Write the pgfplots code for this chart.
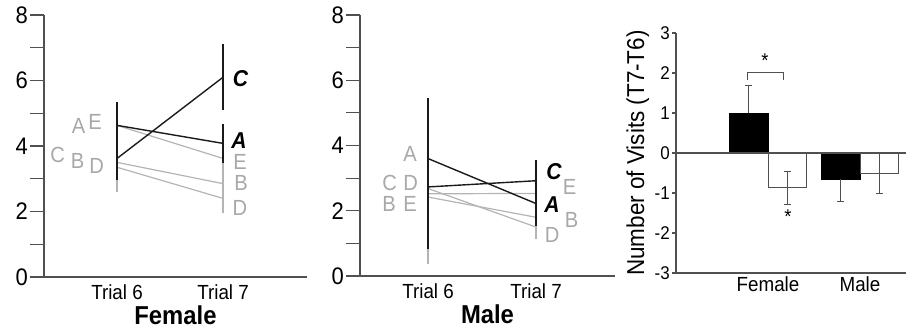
\documentclass[border=0pt]{standalone}
\usepackage{pgfplots}
\pgfplotsset{compat=1.18}
\usepackage{fontspec}
\setmainfont{Liberation Sans}[FakeStretch=0.92]
\definecolor{axgray}{HTML}{505050}
\definecolor{lgray}{HTML}{B4B4B4}
\definecolor{tgray}{HTML}{A8A8A8}
\definecolor{dk}{HTML}{1A1A1A}
\pgfplotsset{
 trialaxis/.style={
   scale only axis, axis lines*=left,
   axis line style={axgray, line width=1.2bp},
   ymin=0, ymax=8, ytick={0,2,4,6,8}, minor ytick={1,3,5,7},
   ytick align=outside, xtick align=inside,
   major tick length=14bp, minor tick length=14bp,
   tick style={axgray, line width=1.2bp},
   xtick={0,1}, xticklabels={Trial 6, Trial 7},
   major x tick style={draw=none},
   yticklabel style={font=\fontsize{24}{26}\selectfont, inner sep=2bp},
   xticklabel style={font=\fontsize{20.5}{22}\selectfont, anchor=base, yshift=-22bp},
   xlabel style={font=\fontsize{26}{28}\selectfont\bfseries, at={(axis description cs:0.5,0)}, anchor=base, yshift=-47bp},
   /pgf/number format/assume math mode=true,
   clip=false,
 },
 gline/.style={lgray, line width=1.2bp, error bars/.cd, y dir=both, y explicit, error mark=none, error bar style={lgray, line width=1.5bp}},
 kline/.style={dk, line width=1.4bp, error bars/.cd, y dir=both, y explicit, error mark=none, error bar style={dk, line width=1.6bp}},
}
\tikzset{
 glabel/.style={font=\fontsize{22}{23}\selectfont, text=tgray, inner sep=0pt},
 blabel/.style={font=\fontsize{23}{24}\selectfont\bfseries\itshape, text=black, inner sep=0pt},
}
\begin{document}
\begin{tikzpicture}
\useasboundingbox (0,0) rectangle (906bp,331bp);
% ---------- Female panel
\begin{axis}[trialaxis, at={(44bp,54bp)}, anchor=south west,
  width=263bp, height=262bp, xmin=-0.689, xmax=1.792, xlabel={Female}]
\addplot[gline] coordinates {(0,4.63) +- (0,0.6) (1,3.62) +- (0,0.5)}; % E
\addplot[gline] coordinates {(0,3.50) +- (0,0.55) (1,2.85) +- (0,0.5)}; % B
\addplot[gline] coordinates {(0,3.35) +- (0,0.75) (1,2.40) +- (0,0.45)}; % D
\addplot[kline] coordinates {(0,4.63) +- (0,0.7) (1,4.08) +- (0,0.6)}; % A
\addplot[kline] coordinates {(0,3.62) +- (0,0.65) (1,6.10) +- (0,1.0)}; % C
\node[glabel] at (axis cs:-0.363,4.60) {A};
\node[glabel] at (axis cs:-0.208,4.74) {E};
\node[glabel] at (axis cs:-0.561,3.73) {C};
\node[glabel] at (axis cs:-0.373,3.55) {B};
\node[glabel] at (axis cs:-0.193,3.40) {D};
\node[blabel] at (axis cs:1.165,6.05) {C};
\node[blabel] at (axis cs:1.15,4.15) {A};
\node[glabel] at (axis cs:1.16,3.50) {E};
\node[glabel] at (axis cs:1.17,2.87) {B};
\node[glabel] at (axis cs:1.16,2.11) {D};
\end{axis}
% ---------- Male panel
\begin{axis}[trialaxis, at={(360bp,55bp)}, anchor=south west,
  width=255bp, height=261bp, xmin=-0.63, xmax=1.731, xlabel={Male}]
\addplot[gline] coordinates {(0,2.52) +- (0,1.5) (1,2.53) +- (0,0.7)}; % E
\addplot[gline] coordinates {(0,2.42) +- (0,1.5) (1,1.80) +- (0,0.5)}; % B
\addplot[gline] coordinates {(0,2.68) +- (0,2.3) (1,1.50) +- (0,0.38)}; % D
\addplot[kline] coordinates {(0,3.60) +- (0,1.85) (1,2.22) +- (0,0.68)}; % A
\addplot[kline] coordinates {(0,2.73) +- (0,1.9) (1,2.92) +- (0,0.63)}; % C
\node[glabel] at (axis cs:-0.167,3.75) {A};
\node[glabel] at (axis cs:-0.356,2.86) {C};
\node[glabel] at (axis cs:-0.162,2.86) {D};
\node[glabel] at (axis cs:-0.360,2.21) {B};
\node[glabel] at (axis cs:-0.167,2.21) {E};
\node[blabel] at (axis cs:1.167,3.20) {C};
\node[glabel] at (axis cs:1.31,2.73) {E};
\node[blabel] at (axis cs:1.148,2.18) {A};
\node[glabel] at (axis cs:1.33,1.72) {B};
\node[glabel] at (axis cs:1.15,1.26) {D};
\end{axis}
% ---------- Difference panel
\begin{axis}[scale only axis, at={(676bp,58bp)}, anchor=south west,
  width=230bp, height=240bp, xmin=0, xmax=2.5, ymin=-3, ymax=3,
  axis lines*=left, axis line style={axgray, line width=1.2bp},
  ytick={-3,-2,-1,0,1,2,3}, ytick align=outside, xtick align=inside,
  major tick length=4bp,
  tick style={axgray, line width=1.2bp},
  xtick={1,2}, xticklabels={Female, Male}, major x tick style={draw=none},
  yticklabel style={font=\fontsize{18.5}{20}\selectfont, inner sep=2bp},
  xticklabel style={font=\fontsize{20.5}{22}\selectfont, anchor=base, yshift=-19bp},
  ylabel={Number of Visits (T7-T6)},
  ylabel style={font=\fontsize{24.5}{26}\selectfont},
  /pgf/number format/assume math mode=true,
  clip=false]
\addplot[ybar, bar width=0.42, bar shift=0, fill=black, draw=black,
  error bars/.cd, y dir=plus, y explicit,
  error bar style={axgray, line width=1.2bp},
  error mark options={rotate=90, mark size=3.5bp, axgray, line width=1.2bp}]
  coordinates {(0.79,1.0) +- (0,0.69)};
\addplot[ybar, bar width=0.42, bar shift=0, fill=black, draw=black,
  error bars/.cd, y dir=minus, y explicit,
  error bar style={axgray, line width=1.2bp},
  error mark options={rotate=90, mark size=3.5bp, axgray, line width=1.2bp}]
  coordinates {(1.79,-0.65) +- (0,0.57)};
\addplot[ybar, bar width=0.42, bar shift=0, fill=white, draw=axgray, line width=1bp,
  error bars/.cd, y dir=both, y explicit,
  error bar style={axgray, line width=1.2bp},
  error mark options={rotate=90, mark size=3.5bp, axgray, line width=1.2bp}]
  coordinates {(1.21,-0.87) +- (0,0.41) (2.21,-0.52) +- (0,0.5)};
\draw[axgray, line width=1.2bp] (axis cs:0,0) -- (axis cs:2.5,0);
\draw[axgray, line width=1bp] (axis cs:0.78,1.83) -- (axis cs:0.78,2.02) -- (axis cs:1.163,2.02) -- (axis cs:1.163,1.83);
\node[font=\fontsize{20}{20}\selectfont] at (axis cs:0.967,2.3) {*};
\node[font=\fontsize{20}{20}\selectfont] at (axis cs:1.217,-1.58) {*};
\end{axis}
\end{tikzpicture}
\end{document}
